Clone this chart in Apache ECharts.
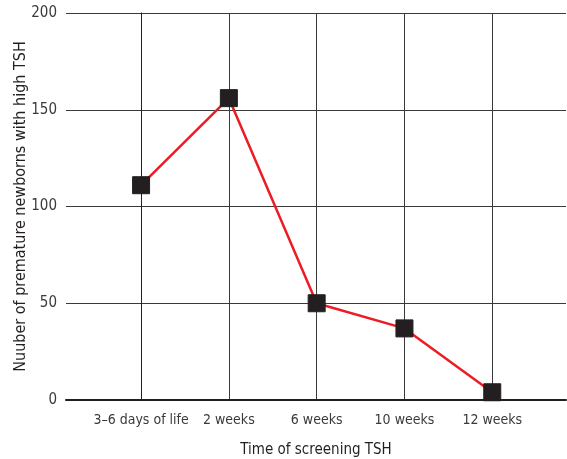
<!DOCTYPE html>
<html>
<head>
<meta charset="utf-8">
<script src="https://cdn.jsdelivr.net/npm/echarts@6/dist/echarts.min.js"></script>
<style>html,body{margin:0;padding:0;background:#fff;}#c{width:567px;height:459px;}</style>
</head>
<body>
<div id="c"></div>
<script>
var categories = ['3\u20136 days of life', '2 weeks', '6 weeks', '10 weeks', '12 weeks'];
var values = [111, 156, 50, 37, 4];
var yTicks = [0, 50, 100, 150, 200];
var xTitle = 'Time of screening TSH';
var yTitle = 'Nuuber of premature newborns with high TSH';

var FONT = '"DejaVu Sans Condensed", "Liberation Sans Narrow", sans-serif';
var idx = categories.map(function (c, i) { return i; });
var chart = echarts.init(document.getElementById('c'), null, {renderer: 'canvas'});
chart.setOption({
  animation: false,
  backgroundColor: '#ffffff',
  grid: {left: 66, right: 1, top: 13, bottom: 59, containLabel: false, outerBoundsMode: 'none'},
  xAxis: {
    type: 'value',
    min: -0.855,
    max: 4.84,
    name: xTitle,
    nameLocation: 'middle',
    nameGap: 43,
    nameMoveOverlap: false,
    nameTextStyle: {fontFamily: FONT, fontSize: 15, color: '#231f20'},
    axisLine: {show: true, onZero: false, lineStyle: {color: '#231f20', width: 2}},
    axisTick: {show: false, customValues: idx},
    axisLabel: {
      customValues: idx,
      formatter: function (v) { return categories[Math.round(v)]; },
      fontFamily: FONT, fontSize: 14, color: '#3a3a3a', margin: 13
    },
    splitLine: {show: true, lineStyle: {color: '#3a3a3a', width: 1}}
  },
  yAxis: {
    type: 'value',
    min: yTicks[0],
    max: yTicks[yTicks.length - 1],
    interval: 50,
    name: yTitle,
    nameLocation: 'middle',
    nameGap: 37,
    nameMoveOverlap: false,
    nameTextStyle: {fontFamily: FONT, fontSize: 16, color: '#231f20'},
    axisLine: {show: true, lineStyle: {color: '#231f20', width: 1}},
    axisTick: {show: false},
    axisLabel: {fontFamily: FONT, fontSize: 15, color: '#3a3a3a', margin: 9},
    splitLine: {show: true, lineStyle: {color: '#3a3a3a', width: 1}}
  },
  series: [{
    type: 'line',
    data: values.map(function (v, i) { return [i, v]; }),
    symbol: 'rect',
    symbolSize: 17,
    itemStyle: {color: '#231f20', borderColor: '#231f20'},
    lineStyle: {color: '#ed1c24', width: 2.5},
    z: 3
  }]
});
</script>
</body>
</html>
